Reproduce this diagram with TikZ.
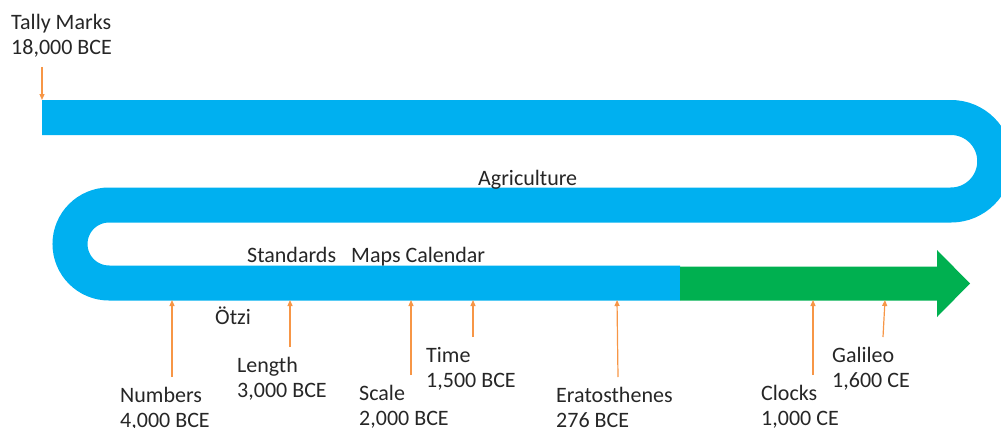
\documentclass[tikz,border=0pt]{standalone}
\usepackage{fontspec}
\setmainfont{Carlito}
\usetikzlibrary{arrows.meta}
\definecolor{band}{HTML}{00B0F0}
\definecolor{bandgreen}{HTML}{00B050}
\definecolor{pin}{HTML}{F79646}
\definecolor{ink}{HTML}{262626}
\begin{document}
\begin{tikzpicture}[x=1pt,y=1pt,
  lbl/.style={anchor=base west,inner sep=0pt,align=left,text=ink,font=\fontsize{22}{25}\selectfont},
  pinarrow/.style={draw=pin,line width=1.2pt,-{Triangle[length=6pt,width=5pt]}},
  blueband/.style={draw=band,line width=35pt,line cap=butt}]
\useasboundingbox (0,0) rectangle (1001,-428);
\clip (0,0) rectangle (1001,-428);
% serpentine band
\draw[blueband] (42,-117.5) -- (951,-117.5) arc[start angle=90,end angle=-90,radius=43.75]
  -- (109,-205) arc[start angle=90,end angle=270,radius=39] -- (680,-283);
% green arrow
\fill[bandgreen] (680,-266.5) -- (937,-266.5) -- (937,-250) -- (970,-283.5) -- (937,-317)
  -- (937,-300.5) -- (680,-300.5) -- cycle;
% labels (anchor = baseline of last line)
\node[lbl] (tally) at (11,-55) {Tally Marks\\18,000 BCE};
\node[lbl] (agri) at (478,-185) {Agriculture};
\node[lbl] (std) at (247,-262) {Standards};
\node[lbl] (maps) at (351,-262) {Maps Calendar};
\node[lbl] (otzi) at (215,-324) {Ötzi};
\node[lbl] (numbers) at (120,-427) {Numbers\\4,000 BCE};
\node[lbl] (length) at (237,-397) {Length\\3,000 BCE};
\node[lbl] (scale) at (359,-425) {Scale\\2,000 BCE};
\node[lbl] (time) at (426,-387) {Time\\1,500 BCE};
\node[lbl] (erat) at (556,-427) {Eratosthenes\\276 BCE};
\node[lbl] (clocks) at (761,-425) {Clocks\\1,000 CE};
\node[lbl] (galileo) at (832,-387) {Galileo\\1,600 CE};
% pin coordinates
\coordinate (tallyA) at (42,-67);   \coordinate (tallyB) at (42,-100);
\coordinate (numA) at (172,-377);   \coordinate (numB) at (172,-300);
\coordinate (lenA) at (290,-347);   \coordinate (lenB) at (290,-300);
\coordinate (scaA) at (411,-375);   \coordinate (scaB) at (411,-300);
\coordinate (timA) at (473,-337);   \coordinate (timB) at (473,-300);
\coordinate (eraA) at (618,-377);   \coordinate (eraB) at (617,-300);
\coordinate (cloA) at (813,-375);   \coordinate (cloB) at (813,-300);
\coordinate (galA) at (883,-337);   \coordinate (galB) at (885,-300);
\draw[pinarrow] (tallyA) -- (tallyB);
\draw[pinarrow] (numA) -- (numB);
\draw[pinarrow] (lenA) -- (lenB);
\draw[pinarrow] (scaA) -- (scaB);
\draw[pinarrow] (timA) -- (timB);
\draw[pinarrow] (eraA) -- (eraB);
\draw[pinarrow] (cloA) -- (cloB);
\draw[pinarrow] (galA) -- (galB);
\end{tikzpicture}
\end{document}
